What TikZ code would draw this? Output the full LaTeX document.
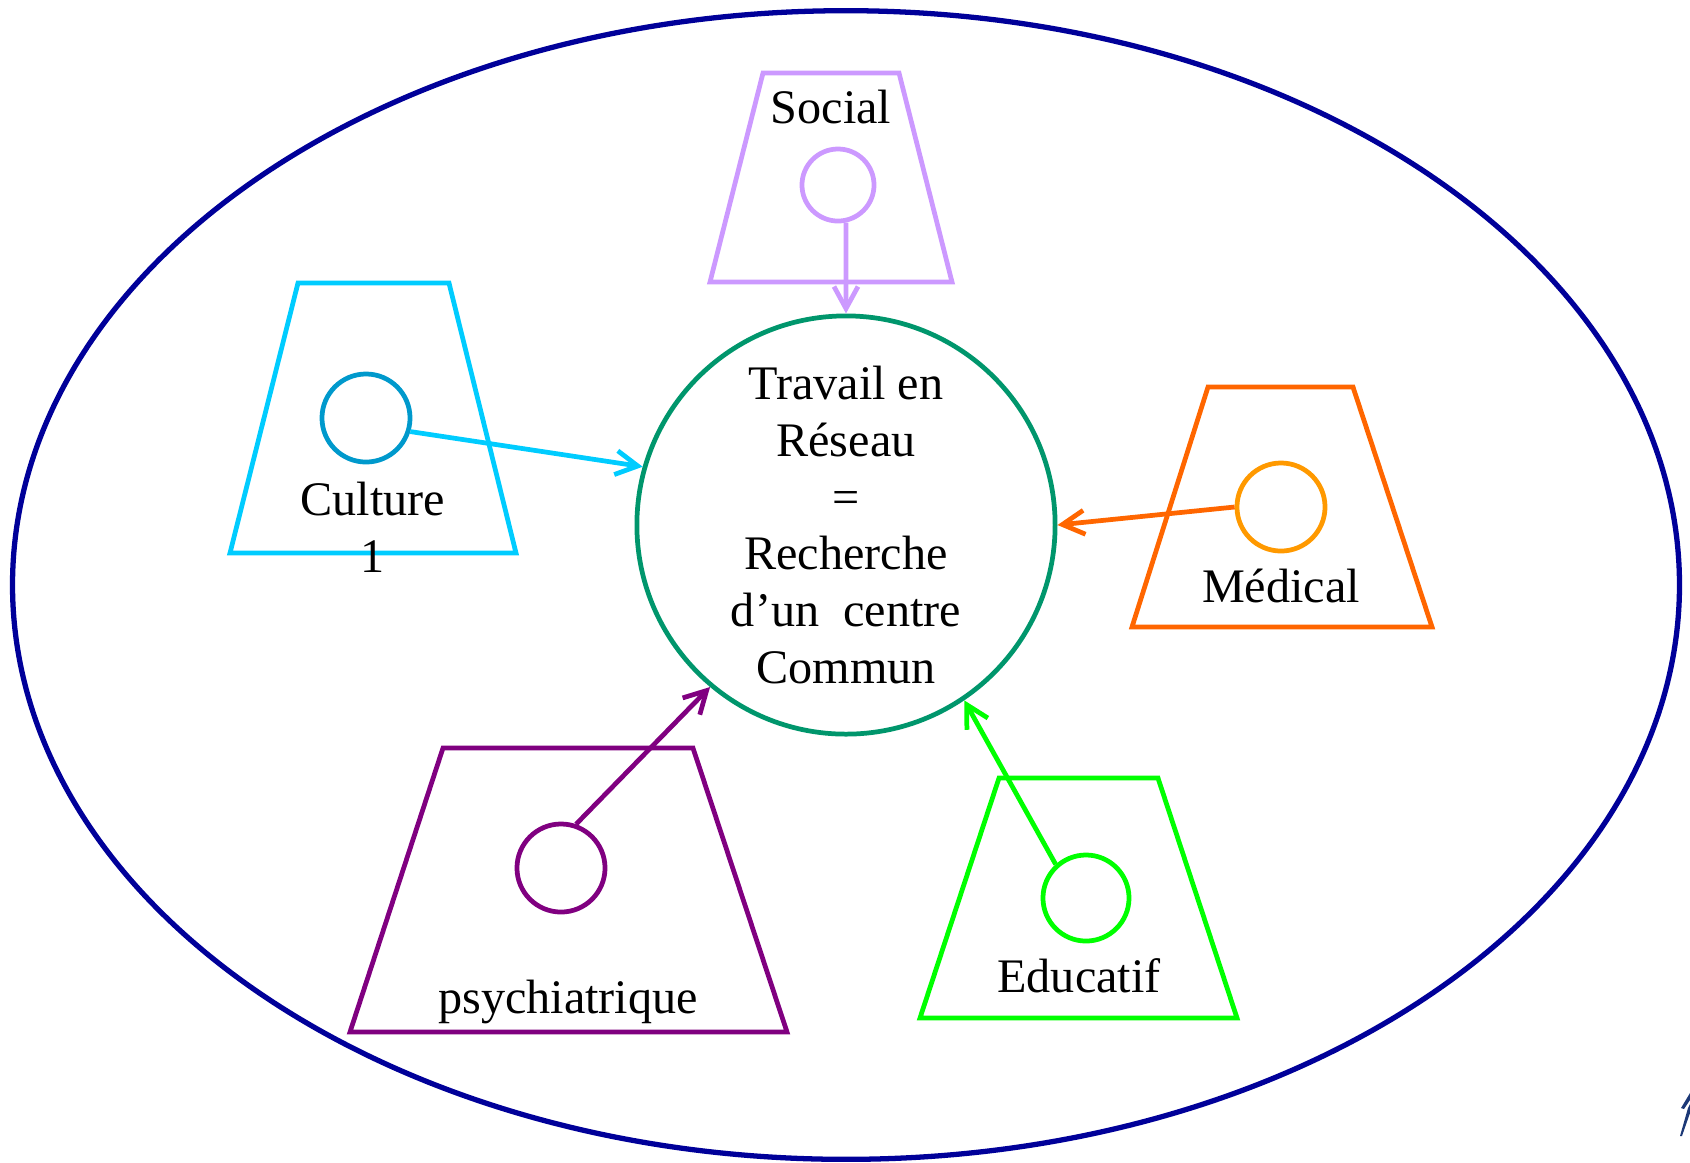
\documentclass[tikz,border=0pt]{standalone}
\usepackage{fontspec}
\setmainfont{Liberation Serif}
\usetikzlibrary{arrows.meta}
\definecolor{lavande}{RGB}{204,153,255}
\definecolor{cyanclair}{RGB}{0,204,255}
\definecolor{cyanfonce}{RGB}{0,153,204}
\definecolor{orangemed}{RGB}{255,102,0}
\definecolor{ambre}{RGB}{255,153,0}
\definecolor{prune}{RGB}{128,0,128}
\definecolor{vertvif}{RGB}{0,255,0}
\definecolor{vertcentre}{RGB}{0,150,108}
\definecolor{bleunuit}{RGB}{0,0,153}
\definecolor{encre}{RGB}{28,56,118}
\tikzset{
  pole/.style = {line width=1.35pt, line join=miter},% trapeze d'un pole
  noyau/.style = {circle, draw=vertcentre, line width=1.35pt, inner sep=0pt,
    minimum size=4.18cm, align=center,
    font=\fontsize{13.7}{16.2}\selectfont},% cercle central
  bulle/.style = {circle, line width=1.35pt, inner sep=0pt,
    minimum size=0.88cm},% petit cercle d'un pole
  etiq/.style = {anchor=base, inner sep=0pt,
    font=\fontsize{13.7}{16.2}\selectfont}% nom du pole
}

\begin{document}
\begin{tikzpicture}[x=0.01cm,y=-0.01cm,line width=1.35pt,
    >={Straight Barb[length=2.2mm,width=2.4mm]}]
  \useasboundingbox (0,0) rectangle (1690,1162);
  \draw[bleunuit, line width=1.5pt] (846,585) ellipse [x radius=8.33cm, y radius=5.74cm];

  % les cinq poles
  \draw[pole, lavande] (763,73) -- (899,73) -- (952,282) -- (710,282) -- cycle;
  \draw[pole, cyanclair] (298,283) -- (449,283) -- (516,553) -- (230,553) -- cycle;
  \draw[pole, orangemed] (1208,387) -- (1353,387) -- (1432,627) -- (1132,627) -- cycle;
  \draw[pole, prune] (443,748) -- (693,748) -- (787,1032) -- (350,1032) -- cycle;
  \draw[pole, vertvif] (999,778) -- (1158,778) -- (1237,1018) -- (920,1018) -- cycle;

  \node [noyau] (centre) at (846,525)
    {Travail en\\Réseau\\=\\Recherche\\d’un\ \ centre\\Commun};

  \node [bulle, draw=lavande, minimum size=0.72cm] (socc) at (838,185) {};
  \node [bulle, draw=cyanfonce] (cultc) at (366,418) {};
  \node [bulle, draw=ambre] (medc) at (1281,507) {};
  \node [bulle, draw=prune] (psyc) at (561,868) {};
  \node [bulle, draw=vertvif, minimum size=0.86cm] (educ) at (1086,898) {};

  \node [etiq] (soct) at (831,123) {Social};
  \node [etiq, align=center] (cultt) at (373,572) {Culture\\1};
  \node [etiq] (medt) at (1281,602) {Médical};
  \node [etiq] (psyt) at (568,1013) {psychiatrique};
  \node [etiq] (edut) at (1079,992) {Educatif};

  \foreach \from/\to/\col in {socc.282/centre.90/lavande, cultc.343/centre.164/cyanclair,
      medc.180/centre.0/orangemed, psyc.71/centre.230/prune, educ.132/centre.304/vertvif}
    \draw [->, \col] (\from) -- (\to);

  % bout de logo coupe par le bord
  \fill[encre] (1681,1108) -- (1690,1093) -- (1690,1100) -- (1684,1109) -- cycle;
  \fill[encre] (1680,1136) -- (1688,1108) -- (1690,1104) -- (1690,1113) -- (1682,1136) -- cycle;
\end{tikzpicture}
\end{document}
